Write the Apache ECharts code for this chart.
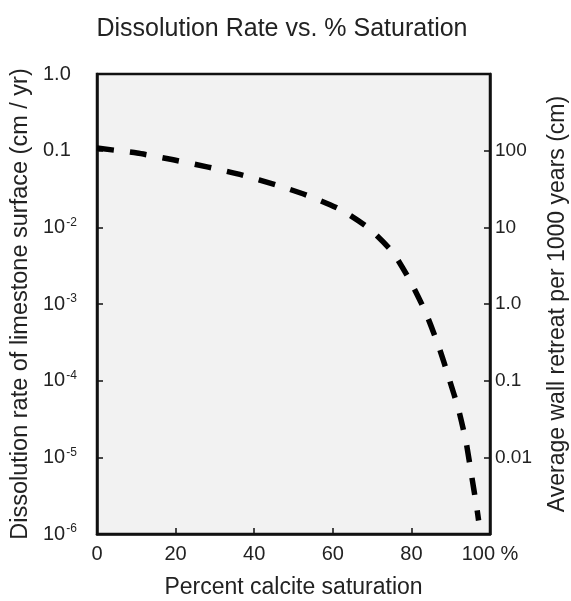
<!DOCTYPE html>
<html><head><meta charset="utf-8">
<script src="https://cdn.jsdelivr.net/npm/echarts@6/dist/echarts.min.js"></script>
<style>html,body{margin:0;padding:0;background:#fff}#c{width:571px;height:601px}</style>
</head><body><div id="c"></div>
<script>
// Data
const saturation = [0, 10.2, 19.4, 28.3, 37, 45.4, 53.6, 62, 69.1, 75.3, 79.8, 83.7, 87, 89.5, 92, 93.9, 95.2, 96.7, 97.1];
const rate = [0.108, 0.093, 0.076, 0.061, 0.048, 0.036, 0.026, 0.017, 0.0098, 0.0047, 0.00195, 0.00076, 0.000275, 0.00011, 0.000042, 0.000016, 0.0000063, 0.0000021, 0.0000015];
const xTickLabels = {0: '0', 20: '20', 40: '40', 60: '60', 80: '80', 100: '100 %'};
const leftTickLabels = {'0': '1.0', '-1': '0.1', '-2': '{b|10}{s|-2}', '-3': '{b|10}{s|-3}', '-4': '{b|10}{s|-4}', '-5': '{b|10}{s|-5}', '-6': '{b|10}{s|-6}'};
const rightTickLabels = {'-2': '0.01', '-1': '0.1', '0': '1.0', '1': '10', '2': '100'};

const FONT = '"Liberation Sans", Arial, sans-serif';
const TXT = '#222';
const chart = echarts.init(document.getElementById('c'), null, {renderer: 'canvas'});
chart.setOption({
  backgroundColor: '#ffffff',
  animation: false,
  title: {
    text: 'Dissolution Rate vs. % Saturation',
    left: 277, top: 12, textAlign: 'center',
    textStyle: {fontFamily: FONT, fontSize: 25, fontWeight: 'normal', color: TXT}
  },
  grid: {
    left: 97, right: 81, top: 74, bottom: 67, containLabel: false, outerBoundsMode: 'none',
    show: true, backgroundColor: '#f2f2f2', borderColor: '#111', borderWidth: 2.5
  },
  xAxis: {
    type: 'value', min: 0, max: 100, interval: 20,
    name: 'Percent calcite saturation', nameLocation: 'middle', nameGap: 42,
    nameTextStyle: {fontFamily: FONT, fontSize: 23, color: TXT},
    axisLine: {show: true, lineStyle: {color: '#111', width: 2.5}},
    axisTick: {show: true, inside: true, length: 6, lineStyle: {color: '#111', width: 1.5}},
    axisLabel: {fontFamily: FONT, fontSize: 20, color: TXT, margin: 10,
      formatter: v => xTickLabels[Math.round(v)] ?? ''},
    splitLine: {show: false}
  },
  yAxis: [{
    type: 'log', logBase: 10, min: 1e-6, max: 1, interval: 1, position: 'left',
    name: 'Dissolution rate of limestone surface (cm / yr)', nameLocation: 'middle', nameGap: 63,
    nameTextStyle: {fontFamily: FONT, fontSize: 23.5, color: TXT},
    axisLine: {show: true, lineStyle: {color: '#111', width: 2.5}},
    axisTick: {show: true, inside: true, length: 6, lineStyle: {color: '#111', width: 1.5}},
    axisLabel: {fontFamily: FONT, fontSize: 20, color: TXT, margin: 54, align: 'left',
      formatter: v => leftTickLabels[String(Math.round(Math.log10(v)))] ?? '',
      rich: {
        b: {fontFamily: FONT, fontSize: 20, color: TXT, lineHeight: 22},
        s: {fontFamily: FONT, fontSize: 12, color: TXT, lineHeight: 22, verticalAlign: 'top', padding: [0, 0, 0, 1]}
      }},
    splitLine: {show: false}
  }, {
    type: 'log', logBase: 10, min: 1e-3, max: 1e3, interval: 1, position: 'right',
    name: 'Average wall retreat per 1000 years (cm)', nameLocation: 'middle', nameGap: 56,
    nameRotate: 90,
    nameTextStyle: {fontFamily: FONT, fontSize: 23, color: TXT},
    axisLine: {show: true, lineStyle: {color: '#111', width: 2.5}},
    axisTick: {show: true, inside: true, length: 6, lineStyle: {color: '#111', width: 1.5}},
    axisLabel: {fontFamily: FONT, fontSize: 19, color: TXT, margin: 5,
      formatter: v => rightTickLabels[String(Math.round(Math.log10(v)))] ?? ''},
    splitLine: {show: false}
  }],
  series: [{
    type: 'line', yAxisIndex: 0, smooth: 0.2, showSymbol: false,
    data: saturation.map((x, i) => [x, rate[i]]),
    lineStyle: {color: '#000', width: 5.5, type: [17, 16], cap: 'butt'}
  }]
});
</script></body></html>
